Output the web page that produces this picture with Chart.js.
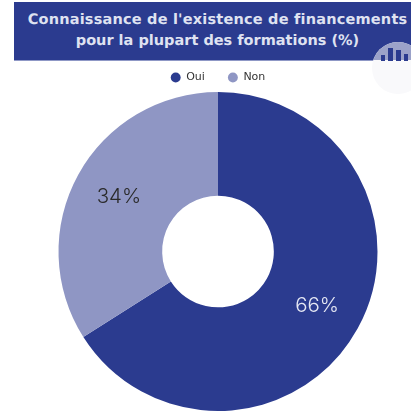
<!DOCTYPE html>
<html lang="fr"><head><meta charset="utf-8">
<style>
html,body{margin:0;padding:0;background:#fff;width:411px;height:412px;overflow:hidden}
#banner{position:absolute;left:14px;top:2px;width:397px;height:59px;background:#2b3b8f;overflow:hidden;border-bottom:1px solid #8f98c6;box-sizing:border-box}
#title{position:absolute;left:5px;width:397px;top:8px;text-align:center;color:#dfe2f1;font:700 14.5px/21px "DejaVu Sans",sans-serif;white-space:nowrap;text-rendering:geometricPrecision}
#title .a{letter-spacing:.2px}
#title .b{letter-spacing:0}
#logo{position:absolute;left:0;top:0;pointer-events:none}
#wrap{position:absolute;left:0;top:0;width:411px;height:412px}
</style></head><body>
<div id="banner"><div id="title"><span class="a">Connaissance de l'existence de financements</span><br><span class="b">pour la plupart des formations (%)</span></div></div>
<svg id="logo" width="411" height="412">
<defs><clipPath id="top"><rect x="0" y="0" width="411" height="60"/></clipPath></defs>
<circle cx="398" cy="68" r="26" fill="#f9f9fb"/>
<circle cx="398" cy="68" r="26" fill="#9ba2c9" clip-path="url(#top)"/>
<g fill="#2b3b8f"><rect x="381" y="55" width="4" height="6"/><rect x="388" y="48" width="5" height="13"/><rect x="396" y="50" width="5" height="11"/><rect x="404" y="54" width="4" height="7"/></g>
</svg>
<div id="wrap"><canvas id="c" width="411" height="412"></canvas></div>
<script src="https://cdn.jsdelivr.net/npm/chart.js@4"></script>
<script>
const categories = ["Oui", "Non"];
const values = [66, 34];
const colors = ["#2b3b8f", "#8f96c4"];
const labelColors = ["#e6e8f4", "#2a2a2a"];
const legendFit = {
  id: "legendFit",
  beforeInit(chart) {
    const fit = chart.legend.fit;
    chart.legend.fit = function () { fit.call(this); this.height = 43; };
  }
};
const valueLabels = {
  id: "valueLabels",
  afterDatasetsDraw(chart) {
    const ctx = chart.ctx, meta = chart.getDatasetMeta(0);
    ctx.save();
    ctx.font = "300 20.5px Inter, sans-serif";
    ctx.textAlign = "center";
    ctx.textBaseline = "middle";
    meta.data.forEach((arc, i) => {
      const p = arc.tooltipPosition();
      ctx.fillStyle = labelColors[i];
      ctx.fillText(values[i] + "%", arc.x + (p.x - arc.x) * 1.05, arc.y + (p.y - arc.y) * 1.05);
    });
    ctx.restore();
  }
};
new Chart(document.getElementById("c"), {
  type: "doughnut",
  data: { labels: categories, datasets: [{ data: values, backgroundColor: colors, borderWidth: 0 }] },
  options: {
    responsive: false, animation: false, cutout: "35%",
    layout: { padding: { top: 49, left: 25, right: 0, bottom: 1 } },
    plugins: {
      tooltip: { enabled: false },
      legend: { position: "top", labels: { usePointStyle: true, pointStyle: "circle", boxWidth: 10, boxHeight: 7, padding: 23, color: "#333", font: { family: "'DejaVu Sans', sans-serif", size: 11 } } }
    }
  },
  plugins: [legendFit, valueLabels]
});
</script></body></html>
